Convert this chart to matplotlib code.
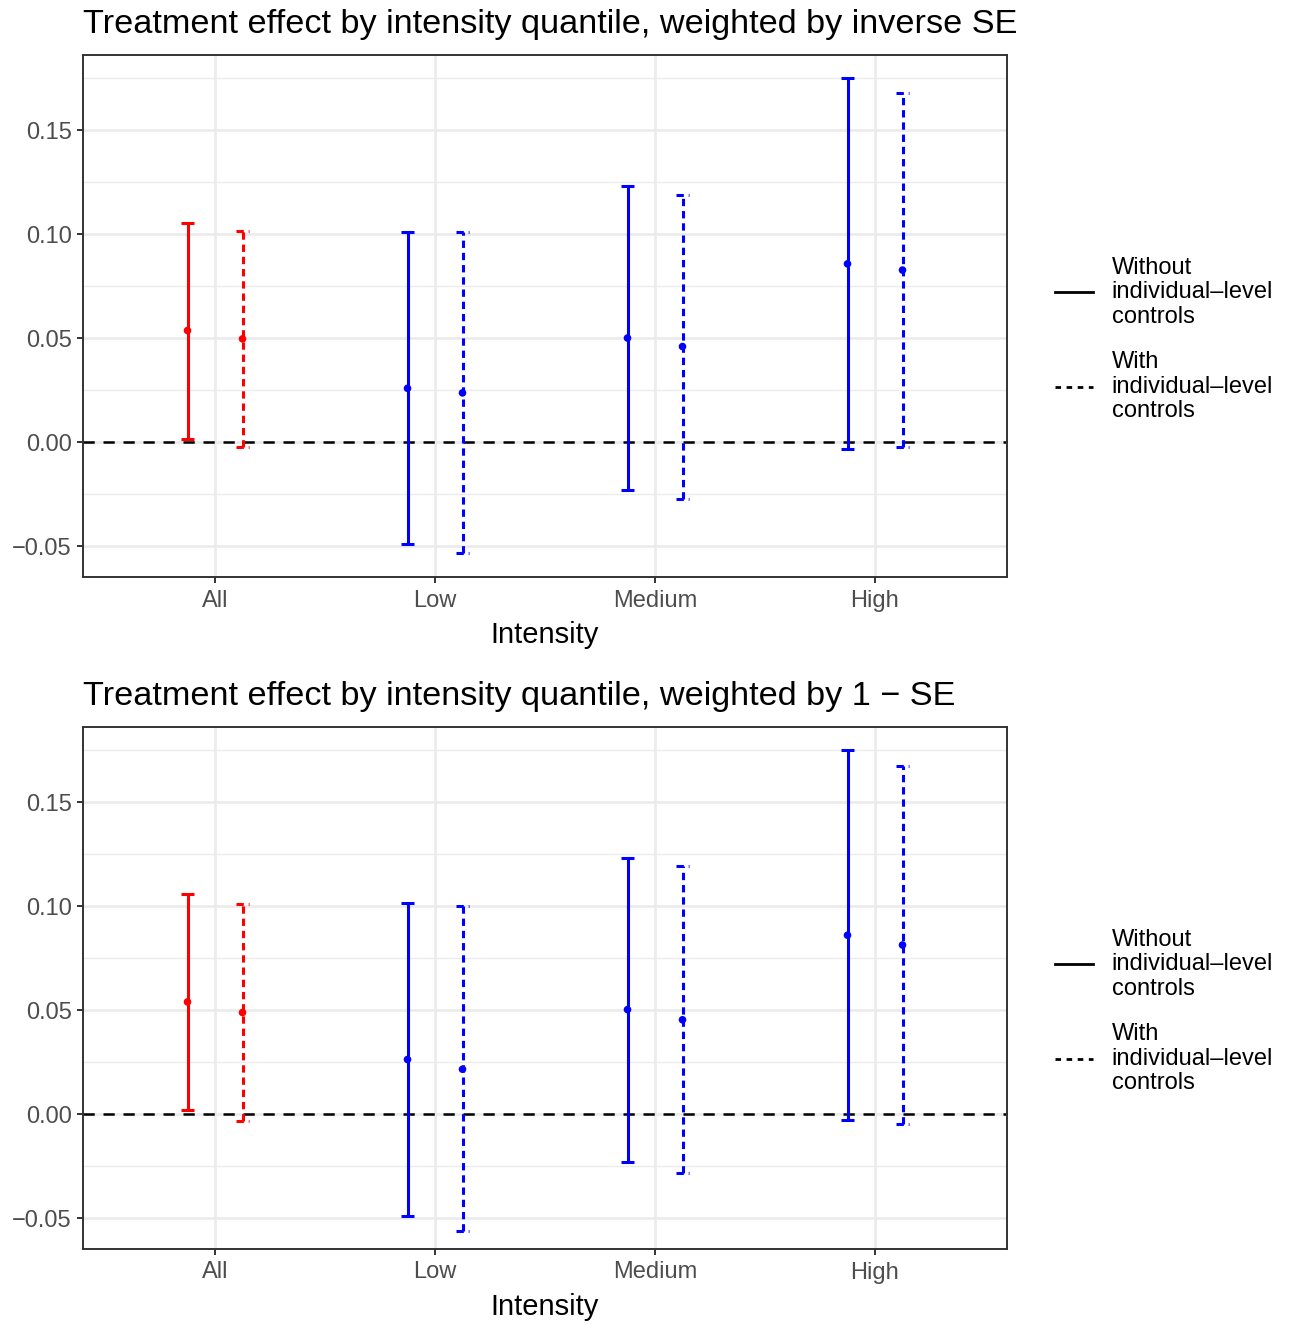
import matplotlib
matplotlib.use("Agg")
import matplotlib.pyplot as plt
from matplotlib.lines import Line2D
import numpy as np

plt.rcParams['font.family'] = ['Liberation Sans', 'DejaVu Sans']

categories = ['All', 'Low', 'Medium', 'High']
colors = ['red', 'blue', 'blue', 'blue']

# panel 1: weighted by inverse SE
p1_est_wo = [0.0537, 0.0259, 0.0501, 0.0858]
p1_lo_wo = [0.0017, -0.0492, -0.0230, -0.0031]
p1_hi_wo = [0.1055, 0.1009, 0.1232, 0.1750]
p1_est_w = [0.0497, 0.0237, 0.0460, 0.0828]
p1_lo_w = [-0.0024, -0.0535, -0.0274, -0.0024]
p1_hi_w = [0.1017, 0.1009, 0.1190, 0.1681]

# panel 2: weighted by 1 - SE
p2_est_wo = [0.0540, 0.0263, 0.0503, 0.0861]
p2_lo_wo = [0.0019, -0.0489, -0.0228, -0.0028]
p2_hi_wo = [0.1060, 0.1015, 0.1234, 0.1751]
p2_est_w = [0.0489, 0.0216, 0.0454, 0.0814]
p2_lo_w = [-0.0033, -0.0564, -0.0282, -0.0047]
p2_hi_w = [0.1011, 0.1001, 0.1194, 0.1676]

titles = ['Treatment effect by intensity quantile, weighted by inverse SE',
          'Treatment effect by intensity quantile, weighted by 1 \u2212 SE']

fig = plt.figure(figsize=(12.96, 13.25), dpi=100)

dash_bar = (0, (2.4, 1.6))
grid_c = '#EBEBEB'


def draw_panel(ax, est_wo, lo_wo, hi_wo, est_w, lo_w, hi_w, title):
    x = np.arange(1, len(categories) + 1)
    cap = 0.028
    for xs, est, lo, hi, ls in [(x - 0.125, est_wo, lo_wo, hi_wo, '-'),
                                (x + 0.125, est_w, lo_w, hi_w, dash_bar)]:
        ax.vlines(xs, lo, hi, colors=colors, linestyles=ls, lw=2.2, zorder=3)
        ax.hlines(lo, xs - cap, xs + cap, colors=colors, linestyles=ls, lw=2.2, zorder=3)
        ax.hlines(hi, xs - cap, xs + cap, colors=colors, linestyles=ls, lw=2.2, zorder=3)
        ax.scatter(xs, est, color=colors, s=30, zorder=4, linewidths=0)
    ax.axhline(0, color='black', lw=1.8, linestyle=(0, (4.5, 3.5)), zorder=2)

    ax.set_xlim(0.4, 4.6)
    ax.set_ylim(-0.0649, 0.1863)
    ax.set_xticks(x)
    ax.set_xticklabels(categories)
    ax.set_yticks([-0.05, 0.0, 0.05, 0.10, 0.15])
    ax.set_yticklabels(['\u22120.05', '0.00', '0.05', '0.10', '0.15'])
    ax.set_yticks([-0.025, 0.025, 0.075, 0.125, 0.175], minor=True)
    ax.grid(True, which='major', color=grid_c, lw=1.9, zorder=0)
    ax.grid(True, which='minor', axis='y', color=grid_c, lw=1.0, zorder=0)
    ax.set_axisbelow(True)
    ax.tick_params(which='major', length=4.5, width=1.4, color='#333333',
                   labelsize=17, labelcolor='#4D4D4D', pad=3.5)
    ax.tick_params(axis='x', which='major', pad=4.5)
    ax.tick_params(which='minor', length=0)
    for s in ax.spines.values():
        s.set_color('#333333')
        s.set_linewidth(1.4)
    ax.set_xlabel('Intensity', fontsize=21, labelpad=7)
    ax.set_title(title, loc='left', fontsize=24.7, pad=16)

    handles = [Line2D([0], [0], color='black', lw=2.0, ls='-'),
               Line2D([0], [0], color='black', lw=2.0, ls=(0, (2.0, 2.0)))]
    labels = ['Without\nindividual\u2013level\ncontrols',
              'With\nindividual\u2013level\ncontrols']
    leg = ax.legend(handles, labels, loc='center left', bbox_to_anchor=(1.052, 0.455),
                    frameon=False, fontsize=17, handlelength=1.6, handletextpad=0.8,
                    labelspacing=1.0, borderpad=0, borderaxespad=0)
    for t in leg.get_texts():
        t.set_linespacing(1.15)


ax1 = fig.add_axes([83 / 1296, 1 - 577 / 1325, 924 / 1296, 522 / 1325])
ax2 = fig.add_axes([83 / 1296, 1 - 1249 / 1325, 924 / 1296, 522 / 1325])

draw_panel(ax1, p1_est_wo, p1_lo_wo, p1_hi_wo, p1_est_w, p1_lo_w, p1_hi_w, titles[0])
draw_panel(ax2, p2_est_wo, p2_lo_wo, p2_hi_wo, p2_est_w, p2_lo_w, p2_hi_w, titles[1])

fig.savefig('out.png', dpi=100)
